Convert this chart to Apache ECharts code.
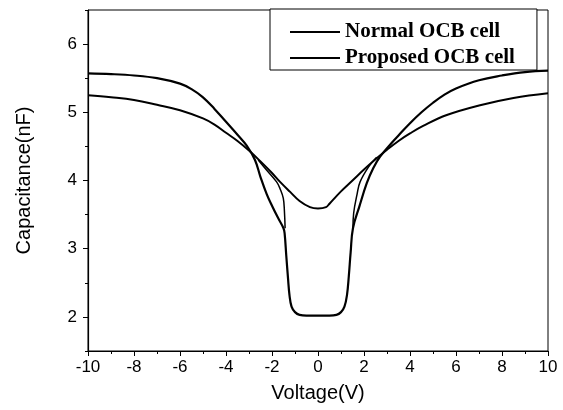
<!DOCTYPE html>
<html lang="en">
  <head>
    <meta charset="UTF-8" />
    <title>Capacitance vs Voltage</title>
    <script src="https://cdn.jsdelivr.net/npm/echarts@6/dist/echarts.min.js"></script>
    <style>
      * {
        margin: 0;
        padding: 0;
      }
    </style>
  </head>
  <body>
    <div id="charts" style="width: 563px; height: 410px"></div>
    <script>
      // Normal OCB cell, outer sweep (goes down into the splay well)
      var normalX = [-10, -9, -8, -7, -6, -5.5, -5, -4.5, -4, -3.5, -3.1, -2.74, -2.5, -2.23, -2, -1.75, -1.5,
        -1.45, -1.38, -1.3, -1.24, -1.15, -1, -0.8, -0.5, 0, 0.5, 0.8, 1, 1.15, 1.26, 1.34, 1.42, 1.52,
        1.8, 2.12, 2.4, 2.7, 3.2, 3.5, 4, 4.5, 5, 5.5, 6, 7, 8, 9, 10];
      var normalY = [5.57, 5.56, 5.54, 5.5, 5.42, 5.34, 5.22, 5.05, 4.86, 4.67, 4.51, 4.3, 4.05, 3.8, 3.63, 3.46, 3.3,
        3.22, 2.9, 2.55, 2.32, 2.15, 2.07, 2.03, 2.02, 2.02, 2.02, 2.03, 2.07, 2.15, 2.32, 2.6, 2.95, 3.3,
        3.62, 3.96, 4.18, 4.35, 4.55, 4.66, 4.84, 5.0, 5.14, 5.26, 5.35, 5.47, 5.54, 5.59, 5.61];
      // Normal OCB cell, return sweep (the thin inner branches)
      var branchX = [-2.6, -2.2, -1.8, -1.65, -1.51, -1.46, -1.43, null, 1.52, 1.55, 1.7, 1.83, 2.2, 2.55];
      var branchY = [4.3, 4.14, 3.98, 3.88, 3.74, 3.55, 3.3, null, 3.3, 3.52, 3.8, 3.98, 4.2, 4.34];
      // Proposed OCB cell
      var proposedX = [-10, -9, -8, -7, -6, -5, -4.5, -4, -3.5, -3, -2.5, -2, -1.65, -1.2, -0.8, -0.35, 0,
        0.35, 0.5, 1, 1.5, 2, 2.5, 3, 3.5, 4, 4.57, 5.6, 7, 8.5, 10];
      var proposedY = [5.25, 5.22, 5.18, 5.11, 5.03, 4.91, 4.82, 4.7, 4.58, 4.44, 4.28, 4.11, 3.98, 3.83, 3.7,
        3.61, 3.59, 3.61, 3.66, 3.84, 4.0, 4.16, 4.31, 4.45, 4.58, 4.69, 4.8, 4.96, 5.1, 5.21, 5.28];

      var yTicks = [2, 3, 4, 5, 6];
      var yMinorTicks = [1.5, 2.5, 3.5, 4.5, 5.5, 6.5];

      function pairs(xs, ys) {
        return xs.map(function (x, i) {
          return x === null ? [NaN, "-"] : [x, ys[i]];
        });
      }

      var myEcharts = echarts.init(document.getElementById("charts"));
      var font = "Liberation Sans, Arial, sans-serif";
      var options = {
        animation: false,
        grid: {
          left: 88,
          right: 15,
          top: 10,
          bottom: 59,
          show: true,
          borderColor: "#000",
          borderWidth: 1,
        },
        legend: {
          orient: "vertical",
          left: 270,
          top: 9,
          padding: [12, 22, 1, 20],
          itemGap: 4,
          itemWidth: 50,
          itemHeight: 2,
          borderColor: "#000",
          borderWidth: 1,
          backgroundColor: "#fff",
          data: [
            { name: "Normal OCB cell", icon: "rect", itemStyle: { color: "#000" } },
            { name: "Proposed OCB cell", icon: "rect", itemStyle: { color: "#000" } },
          ],
          textStyle: {
            fontFamily: "Liberation Serif, Times New Roman, serif",
            fontWeight: "bold",
            fontSize: 21,
            lineHeight: 22,
            color: "#000",
          },
        },
        xAxis: {
          type: "value",
          min: -10,
          max: 10,
          interval: 2,
          name: "Voltage(V)",
          nameLocation: "middle",
          nameGap: 32,
          nameTextStyle: { fontFamily: font, fontSize: 20, color: "#000" },
          axisLine: { onZero: false, lineStyle: { color: "#000", width: 1.2 } },
          axisTick: { length: 5, lineStyle: { color: "#000" } },
          minorTick: { show: true, splitNumber: 2, length: 3, lineStyle: { color: "#000" } },
          splitLine: { show: false },
          axisLabel: { fontFamily: font, fontSize: 17, color: "#000", margin: 8 },
        },
        yAxis: [
          {
            type: "value",
            min: 1.5,
            max: 6.5,
            name: "Capacitance(nF)",
            nameLocation: "middle",
            nameGap: 54,
            nameTextStyle: { fontFamily: font, fontSize: 20, color: "#000" },
            axisLine: { show: true, onZero: false, lineStyle: { color: "#000", width: 1.2 } },
            axisTick: { show: true, length: 5, customValues: yTicks, lineStyle: { color: "#000" } },
            splitLine: { show: false },
            axisLabel: { fontFamily: font, fontSize: 17, color: "#000", margin: 11, customValues: yTicks },
          },
          {
            type: "value",
            min: 1.5,
            max: 6.5,
            position: "left",
            axisLine: { show: false, onZero: false },
            axisTick: { show: true, length: 3, customValues: yMinorTicks, lineStyle: { color: "#000" } },
            axisLabel: { show: false },
            splitLine: { show: false },
          },
        ],
        series: [
          {
            name: "Normal OCB cell",
            type: "line",
            symbol: "none",
            smooth: 0.4,
            data: pairs(normalX, normalY),
            lineStyle: { color: "#000", width: 2.2 },
            itemStyle: { color: "#000" },
          },
          {
            name: "Proposed OCB cell",
            type: "line",
            symbol: "none",
            smooth: 0.4,
            data: pairs(proposedX, proposedY),
            lineStyle: { color: "#000", width: 2 },
            itemStyle: { color: "#000" },
          },
          {
            name: "Normal OCB cell",
            type: "line",
            symbol: "none",
            smooth: 0.4,
            connectNulls: false,
            data: pairs(branchX, branchY),
            lineStyle: { color: "#000", width: 1.5 },
            itemStyle: { color: "#000" },
          },
        ],
      };
      myEcharts.setOption(options);
    </script>
  </body>
</html>
